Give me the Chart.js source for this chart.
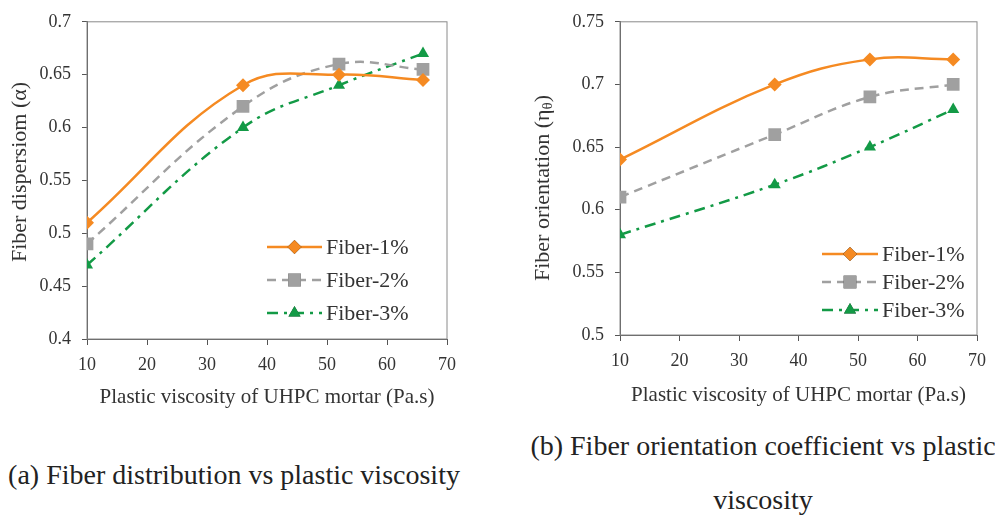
<!DOCTYPE html>
<html>
<head>
<meta charset="utf-8">
<script src="https://cdn.jsdelivr.net/npm/chart.js@4.4.1/dist/chart.umd.min.js"></script>
<style>
  body { margin: 0; background: #fff; width: 995px; height: 516px; position: relative; overflow: hidden; }
  .box { position: absolute; top: 0; height: 420px; }
  .cap { position: absolute; font-family: "Liberation Serif", "Times New Roman", serif; font-size: 28px; color: #222; white-space: nowrap; transform: translateX(-50%); }
</style>
</head>
<body>
<div class="box" style="left:0;width:480px"><canvas id="chart-dispersion"></canvas></div>
<div class="box" style="left:500px;width:495px"><canvas id="chart-orientation"></canvas></div>
<div class="cap" style="left:234px;top:459px">(a) Fiber distribution vs plastic viscosity</div>
<div class="cap" style="left:763px;top:430px">(b) Fiber orientation coefficient vs plastic</div>
<div class="cap" style="left:763px;top:484px">viscosity</div>
<script>
// plastic viscosity of the mortar (Pa.s)
const viscosity = [10, 36, 52, 66]
const seriesLabels = ['Fiber-1%', 'Fiber-2%', 'Fiber-3%']

// fiber dispersion coefficient
const dispersion1 = [0.51, 0.64, 0.65, 0.645]
const dispersion2 = [0.49, 0.62, 0.66, 0.655]
const dispersion3 = [0.47, 0.60, 0.64, 0.67]

// fiber orientation coefficient
const orientation1 = [0.64, 0.70, 0.72, 0.72]
const orientation2 = [0.61, 0.66, 0.69, 0.70]
const orientation3 = [0.58, 0.62, 0.65, 0.68]

const serif = '"Liberation Serif", "Times New Roman", serif'
const textColor = '#333'

const seriesStyle = [
    { color: '#F58A22', dash: [], point: 'rectRot', radius: 7 },
    { color: '#A0A0A0', dash: [9, 6], point: 'rect', radius: 9 },
    { color: '#139A46', dash: [11, 6, 3, 6], point: 'triangle', radius: 7 }
]

function buildDatasets(series) {
    var sets = []
    for (var i = 0; i < series.length; i++) {
        var st = seriesStyle[i]
        var points = []
        for (var j = 0; j < viscosity.length; j++) {
            points.push({ x: viscosity[j], y: series[i][j] })
        }
        sets.push({
            label: seriesLabels[i],
            data: points,
            borderColor: st.color,
            backgroundColor: st.color,
            borderDash: st.dash,
            borderWidth: 2.5,
            pointStyle: st.point,
            pointRadius: st.radius,
            pointBorderWidth: 0,
            tension: 0.4,
            fill: false
        })
    }
    return sets
}

function tickText(v) {
    return String(+v.toFixed(2))
}

// plot frame, legend and rotated y title (with optional subscript)
const decorPlugin = {
    id: 'decor',
    beforeDatasetsDraw(chart, args, opts) {
        var a = chart.chartArea
        var ctx = chart.ctx
        ctx.save()
        ctx.strokeStyle = '#8a8a8a'
        ctx.lineWidth = 1
        ctx.strokeRect(a.left, a.top, a.right - a.left, a.bottom - a.top)
        ctx.restore()
    },
    afterDraw(chart, args, opts) {
        var ctx = chart.ctx
        ctx.save()
        // legend
        var lg = opts.legend
        chart.data.datasets.forEach(function (ds, i) {
            var y = lg.y + i * lg.dy
            ctx.strokeStyle = ds.borderColor
            ctx.lineWidth = ds.borderWidth
            ctx.setLineDash(ds.borderDash)
            ctx.beginPath()
            ctx.moveTo(lg.x, y)
            ctx.lineTo(lg.x + lg.len, y)
            ctx.stroke()
            ctx.setLineDash([])
            Chart.helpers.drawPoint(ctx, {
                pointStyle: ds.pointStyle, radius: ds.pointRadius, rotation: 0, borderWidth: 0
            }, lg.x + lg.len / 2, y)
            ctx.fillStyle = ds.backgroundColor
            ctx.fill()
            ctx.fillStyle = textColor
            ctx.font = '22px ' + serif
            ctx.textBaseline = 'middle'
            ctx.textAlign = 'left'
            ctx.fillText(ds.label, lg.x + lg.len + 4, y + 1)
        })
        // y axis title
        var t = opts.yTitle
        var mainFont = '22px ' + serif
        var subFont = '15px ' + serif
        ctx.translate(t.x, t.y)
        ctx.rotate(-Math.PI / 2)
        ctx.fillStyle = textColor
        ctx.textBaseline = 'middle'
        ctx.textAlign = 'left'
        ctx.font = mainFont
        var w1 = ctx.measureText(t.text).width
        var w3 = t.after ? ctx.measureText(t.after).width : 0
        ctx.font = subFont
        var w2 = t.sub ? ctx.measureText(t.sub).width : 0
        var x0 = -(w1 + w2 + w3) / 2
        ctx.font = mainFont
        ctx.fillText(t.text, x0, 0)
        if (t.sub) {
            ctx.font = subFont
            ctx.fillText(t.sub, x0 + w1, 5)
            ctx.font = mainFont
            ctx.fillText(t.after, x0 + w1 + w2, 0)
        }
        ctx.restore()
    }
}

function buildOptions(cfg) {
    return {
        responsive: true,
        maintainAspectRatio: false,
        animation: false,
        layout: { padding: cfg.padding },
        plugins: {
            legend: { display: false },
            tooltip: { enabled: false },
            decor: { legend: cfg.legend, yTitle: cfg.yTitle }
        },
        scales: {
            x: {
                type: 'linear',
                min: 10, max: 70,
                afterFit: function (s) { s.height = cfg.xHeight },
                ticks: { stepSize: 10, color: textColor, font: { family: serif, size: 18 }, padding: 9, maxRotation: 0 },
                grid: { drawOnChartArea: false, drawTicks: true, tickLength: 6, color: '#555' },
                border: { color: '#555' },
                title: {
                    display: true,
                    text: 'Plastic viscosity of UHPC mortar (Pa.s)',
                    color: textColor,
                    font: { family: serif, size: 21 },
                    padding: { top: 0, bottom: cfg.xTitlePad }
                }
            },
            y: {
                min: cfg.yMin, max: cfg.yMax,
                afterFit: function (s) { s.width = cfg.yWidth },
                ticks: { stepSize: 0.05, color: textColor, font: { family: serif, size: 18 }, padding: 11, callback: tickText },
                grid: { drawOnChartArea: false, drawTicks: true, tickLength: 5, color: '#555' },
                border: { color: '#555' }
            }
        }
    }
}

new Chart(document.getElementById('chart-dispersion'), {
    type: 'line',
    data: { datasets: buildDatasets([dispersion1, dispersion2, dispersion3]) },
    options: buildOptions({
        padding: { top: 21, right: 33, left: 0, bottom: 0 },
        xHeight: 81, yWidth: 87, xTitlePad: 10,
        yMin: 0.4, yMax: 0.7,
        legend: { x: 267, y: 247, dy: 33, len: 55 },
        yTitle: { x: 20, y: 172, text: 'Fiber dispersiom (α)' }
    }),
    plugins: [decorPlugin]
})

new Chart(document.getElementById('chart-orientation'), {
    type: 'line',
    data: { datasets: buildDatasets([orientation1, orientation2, orientation3]) },
    options: buildOptions({
        padding: { top: 20, right: 13, left: 0, bottom: 0 },
        xHeight: 85, yWidth: 120, xTitlePad: 12,
        yMin: 0.5, yMax: 0.75,
        legend: { x: 322, y: 254, dy: 28, len: 56 },
        yTitle: { x: 43, y: 188, text: 'Fiber orientation (η', sub: 'θ', after: ')' }
    }),
    plugins: [decorPlugin]
})
</script>
</body>
</html>
